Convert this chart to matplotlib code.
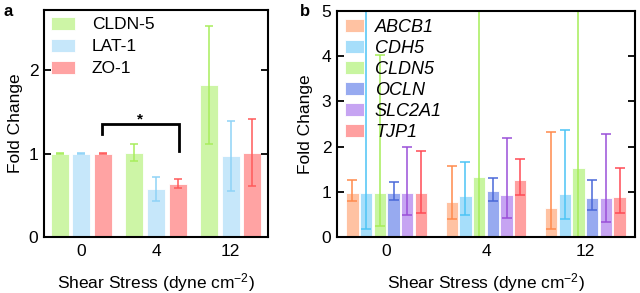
import numpy as np
import matplotlib
matplotlib.use("Agg")
from matplotlib import pyplot as plt

plt.rcParams['font.family'] = ['Liberation Sans', 'DejaVu Sans']
plt.rcParams['mathtext.default'] = 'regular'

stress = ["0", "4", "12"]

# panel a
genes_a = ["CLDN-5", "LAT-1", "ZO-1"]
vals_a = [[1.0, 1.01, 1.82], [1.0, 0.575, 0.97], [1.0, 0.64, 1.01]]
err_a = [[0.005, 0.10, 0.71], [0.005, 0.14, 0.42], [0.005, 0.05, 0.40]]
bar_col_a = ["#cdf5a6", "#c6e7fa", "#ffa3a3"]
err_col_a = ["#a8ee5c", "#8fd3f7", "#ff5a5a"]

# panel b (lower / upper ends of the error bars)
genes_b = ["ABCB1", "CDH5", "CLDN5", "OCLN", "SLC2A1", "TJP1"]
vals_b = [[0.98, 0.77, 0.65], [0.98, 0.90, 0.96], [0.98, 1.32, 1.53],
          [0.98, 1.02, 0.86], [0.98, 0.94, 0.87], [0.98, 1.25, 0.88]]
low_b = [[0.79, 0.39, 0.18], [0.18, 0.49, 0.40], [0.24, 0.0, 0.0],
         [0.81, 0.80, 0.59], [0.49, 0.41, 0.34], [0.52, 0.92, 0.53]]
high_b = [[1.25, 1.56, 2.33], [6.0, 1.66, 2.37], [4.02, 6.0, 6.0],
          [1.21, 1.31, 1.27], [1.99, 2.18, 2.28], [1.90, 1.73, 1.53]]
bar_col_b = ["#ffc2a2", "#a6defa", "#c8f5a0", "#97aaf0", "#c6a4f2", "#ffa0a0"]
err_col_b = ["#ff8a4c", "#4cc4f5", "#a6ee58", "#4a68d8", "#9a4fd8", "#ff4a55"]

fig = plt.figure(figsize=(6.4, 2.93), dpi=100)
ax1 = fig.add_axes([44/640, 56/293, 224/640, 227/293])
ax2 = fig.add_axes([337/640, 56/293, 298/640, 226/293])

x = np.arange(len(stress))

for i, g in enumerate(genes_a):
    ax1.bar(x + (i - 1) * 0.29, vals_a[i], 0.245, color=bar_col_a[i],
            edgecolor="white", linewidth=0.6, label=g)
    ax1.errorbar(x + (i - 1) * 0.29, vals_a[i], yerr=err_a[i], fmt="none",
                 ecolor=err_col_a[i], elinewidth=1.1, capsize=3, capthick=1.1)

# significance bracket
ax1.plot([0.276, 0.276, 1.307, 1.307], [1.24, 1.355, 1.355, 1.03],
         color="black", lw=2, solid_joinstyle="miter")
ax1.text(0.79, 1.41, "*", ha="center", va="center", fontsize=11, fontweight="bold")

ax1.set_xlim(-0.5, 2.5)
ax1.set_ylim(0, 2.72)
ax1.set_yticks([0, 1, 2])
ax1.set_xticks(x)
ax1.set_xticklabels(stress)
ax1.set_ylabel("Fold Change", fontsize=12.5)
ax1.set_xlabel("Shear Stress (dyne cm$^{-2}$)", fontsize=12.5, labelpad=9)
ax1.legend(loc="upper left", frameon=False, fontsize=12.5, handlelength=1.38,
           handleheight=0.75, handletextpad=0.98, labelspacing=0.38,
           borderaxespad=0.0, borderpad=0.4)

w = 0.124
for i, g in enumerate(genes_b):
    pos = x + (i - 2.5) * 0.138
    v = np.array(vals_b[i])
    yerr = [v - np.array(low_b[i]), np.array(high_b[i]) - v]
    ax2.bar(pos, v, w, color=bar_col_b[i], edgecolor="white", linewidth=0.6, label=g)
    ax2.errorbar(pos, v, yerr=yerr, fmt="none", ecolor=err_col_b[i],
                 elinewidth=1.1, capsize=3.3, capthick=1.1)

ax2.set_xlim(-0.5, 2.5)
ax2.set_ylim(0, 5)
ax2.set_yticks([0, 1, 2, 3, 4, 5])
ax2.set_xticks(x)
ax2.set_xticklabels(stress)
ax2.set_ylabel("Fold Change", fontsize=12.5, labelpad=6)
ax2.set_xlabel("Shear Stress (dyne cm$^{-2}$)", fontsize=12.5, labelpad=9)
leg = ax2.legend(loc="upper left", frameon=False, fontsize=13, handlelength=1.05,
                 handleheight=0.75, handletextpad=0.6, labelspacing=0.22,
                 borderaxespad=0.0, borderpad=0.45)
for t in leg.get_texts():
    t.set_fontstyle("italic")

for ax in (ax1, ax2):
    for s in ax.spines.values():
        s.set_linewidth(1.5)
    ax.tick_params(axis="y", direction="in", right=True, length=5, width=1.3,
                   labelsize=12.5, pad=4)
    ax.tick_params(axis="x", length=0, labelsize=12.5, pad=5)

fig.text(3/640, 1 - 12/293, "a", fontsize=12, fontweight="bold", va="center")
fig.text(300/640, 1 - 12/293, "b", fontsize=12, fontweight="bold", va="center")

fig.savefig("out.png", dpi=100)
